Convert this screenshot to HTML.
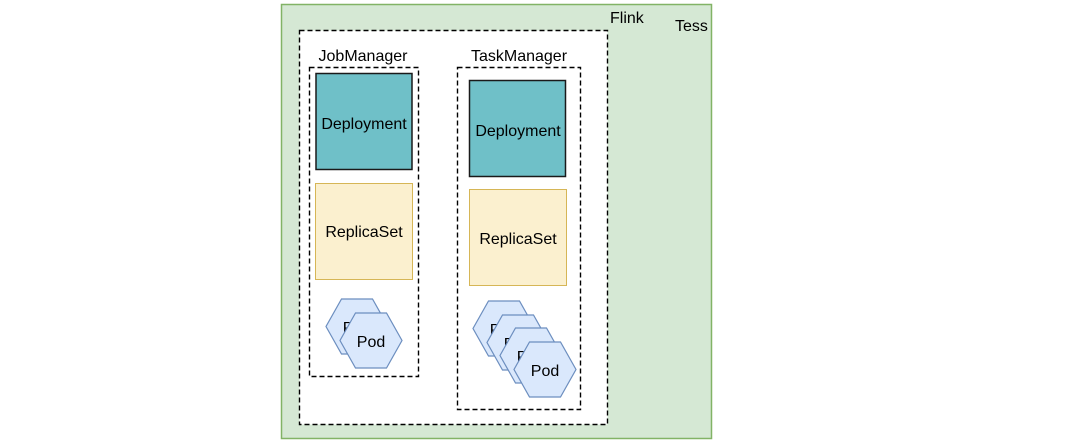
<!DOCTYPE html>
<html><head><meta charset="utf-8"><style>
html,body{margin:0;padding:0;background:#fff;width:1066px;height:445px;overflow:hidden}
svg text{font-family:"Liberation Sans",Arial,sans-serif;fill:#000}
</style></head><body>
<svg width="1066" height="445" viewBox="0 0 1066 445" xmlns="http://www.w3.org/2000/svg">
<defs>
<polygon id="hex" points="15.5,0 46.5,0 62,27.5 46.5,55 15.5,55 0,27.5" fill="#dae8fc" stroke="#6c8ebf" stroke-width="1.2"/>
</defs>
<rect x="281.5" y="4.5" width="430" height="434" fill="#d5e8d4" stroke="#82b366" stroke-width="1.5"/>
<text x="675" y="31" font-size="16">Tess</text>
<text x="610" y="23" font-size="16">Flink</text>
<rect x="299.5" y="30.5" width="308" height="394" fill="#fff" stroke="#000" stroke-width="1.4" stroke-dasharray="5,3"/>
<text x="363" y="61" font-size="16" text-anchor="middle">JobManager</text>
<text x="519" y="61" font-size="16" text-anchor="middle">TaskManager</text>
<rect x="309.5" y="67.5" width="109" height="309" fill="none" stroke="#000" stroke-width="1.4" stroke-dasharray="5,3"/>
<rect x="457.5" y="67.5" width="123" height="342" fill="none" stroke="#000" stroke-width="1.4" stroke-dasharray="5,3"/>
<rect x="316" y="73.5" width="96" height="96" fill="#6fc0c8" stroke="#1a1a1a" stroke-width="1.5"/>
<text x="364" y="129" font-size="16" text-anchor="middle">Deployment</text>
<rect x="315.5" y="183.5" width="97" height="96" fill="#fbf0cf" stroke="#d6b656" stroke-width="1"/>
<text x="364" y="237" font-size="16" text-anchor="middle">ReplicaSet</text>
<rect x="469.5" y="80.5" width="96" height="96" fill="#6fc0c8" stroke="#1a1a1a" stroke-width="1.5"/>
<text x="518" y="136" font-size="16" text-anchor="middle">Deployment</text>
<rect x="469.5" y="189.5" width="97" height="96" fill="#fbf0cf" stroke="#d6b656" stroke-width="1"/>
<text x="518" y="244" font-size="16" text-anchor="middle">ReplicaSet</text>
<use href="#hex" x="326" y="299"/>
<text x="357" y="333" font-size="16" text-anchor="middle">Pod</text>
<use href="#hex" x="340" y="313"/>
<text x="371" y="347" font-size="16" text-anchor="middle">Pod</text>
<use href="#hex" x="473" y="301"/>
<text x="504" y="335" font-size="16" text-anchor="middle">Pod</text>
<use href="#hex" x="487" y="315"/>
<text x="518" y="349" font-size="16" text-anchor="middle">Pod</text>
<use href="#hex" x="500" y="328"/>
<text x="531" y="362" font-size="16" text-anchor="middle">Pod</text>
<use href="#hex" x="514" y="342"/>
<text x="545" y="376" font-size="16" text-anchor="middle">Pod</text>
</svg>
</body></html>
